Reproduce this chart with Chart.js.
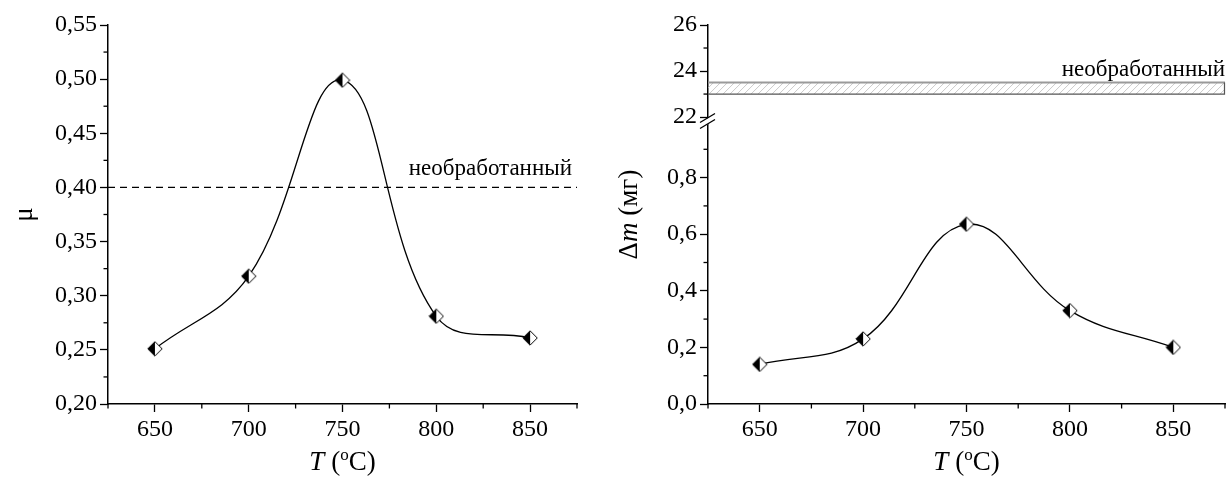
<!DOCTYPE html>
<html>
<head>
<meta charset="utf-8">
<script src="https://cdn.jsdelivr.net/npm/chart.js@4.4.0/dist/chart.umd.min.js"></script>
<style>
html, body { margin: 0; padding: 0; background: #fff; }
#wrap { position: relative; width: 1229px; height: 477px; }
canvas { position: absolute; top: 0; }
#left { left: 0; }
#right { left: 600px; }
</style>
</head>
<body>
<div id="wrap">
    <canvas id="left" width="600" height="477"></canvas>
    <canvas id="right" width="629" height="477"></canvas>
</div>
<script>
// Data
const temps = [650, 700, 750, 800, 850];
const friction = [0.251, 0.318, 0.499, 0.281, 0.261];
const massLoss = [0.14, 0.23, 0.635, 0.33, 0.20];
const untreatedFriction = 0.40;
const untreatedMassLoss = [23.0, 23.5];
const untreatedLabel = 'необработанный';

// Ticks
const xTicks = [650, 700, 750, 800, 850];
const xMinor = [625, 675, 725, 775, 825, 875];
const muTicks = [0.20, 0.25, 0.30, 0.35, 0.40, 0.45, 0.50, 0.55];
const muMinor = [0.225, 0.275, 0.325, 0.375, 0.425, 0.475, 0.525];
const lowTicks = [0, 0.2, 0.4, 0.6, 0.8];
const lowMinor = [0.1, 0.3, 0.5, 0.7, 0.9];
const highTicks = [22, 24, 26];
const highMinor = [23, 25];

const FONT = "'Liberation Serif', 'DejaVu Serif', serif";
Chart.defaults.font.family = FONT;
Chart.defaults.font.size = 24;
Chart.defaults.color = '#000';
const fmt = (v, d) => v.toFixed(d).replace('.', ',');

// Half black / half white diamond marker
const makeMarker = () => {
    const c = document.createElement('canvas');
    c.width = 16; c.height = 16;
    const g = c.getContext('2d');
    const diamond = () => {
        g.beginPath();
        g.moveTo(8, 0.8); g.lineTo(15.2, 8); g.lineTo(8, 15.2); g.lineTo(0.8, 8);
        g.closePath();
    };
    diamond();
    g.fillStyle = '#fff';
    g.fill();
    g.beginPath();
    g.moveTo(8, 0.8); g.lineTo(8, 15.2); g.lineTo(0.8, 8);
    g.closePath();
    g.fillStyle = '#000';
    g.fill();
    diamond();
    g.strokeStyle = '#000';
    g.lineWidth = 1;
    g.stroke();
    return c;
};
const marker = makeMarker();

// Text made of parts with different fonts (optionally rotated)
const drawRich = (ctx, parts, x, y, rotate) => {
    ctx.save();
    ctx.translate(x, y);
    if (rotate) ctx.rotate(-Math.PI / 2);
    let total = 0;
    parts.forEach(p => { ctx.font = p.font; p.w = ctx.measureText(p.t).width; total += p.w; });
    let cx = -total / 2;
    ctx.fillStyle = '#000';
    ctx.textAlign = 'left';
    ctx.textBaseline = 'middle';
    parts.forEach(p => { ctx.font = p.font; ctx.fillText(p.t, cx, p.dy || 0); cx += p.w; });
    ctx.restore();
};

const xTitle = [
    { t: 'T', font: `italic 27px ${FONT}` },
    { t: ' (', font: `27px ${FONT}` },
    { t: 'o', font: `17px ${FONT}`, dy: -7 },
    { t: 'C)', font: `27px ${FONT}` }
];

// Minor ticks, titles and annotations
const decor = (minor, extra) => ({
    id: 'decor',
    afterDraw(chart) {
        const ctx = chart.ctx;
        ctx.save();
        ctx.strokeStyle = '#000';
        ctx.lineWidth = 1.3;
        minor.forEach(([id, vals]) => {
            const s = chart.scales[id];
            vals.forEach(v => {
                const p = s.getPixelForValue(v);
                ctx.beginPath();
                if (s.isHorizontal()) { ctx.moveTo(p, s.top); ctx.lineTo(p, s.top + 4.5); }
                else { ctx.moveTo(s.right - 4.5, p); ctx.lineTo(s.right, p); }
                ctx.stroke();
            });
        });
        ctx.restore();
        const a = chart.chartArea;
        drawRich(ctx, xTitle, (a.left + a.right) / 2, 463, false);
        extra(chart, ctx);
    }
});

const tickFont = { family: FONT, size: 24 };

const xScale = () => ({
    type: 'linear', min: 625, max: 875,
    afterBuildTicks: s => { s.ticks = xTicks.map(v => ({ value: v })); },
    afterFit: s => { s.height = 73; },
    ticks: { font: tickFont, color: '#000', padding: 3, maxRotation: 0, autoSkip: false },
    grid: { drawOnChartArea: false, drawTicks: true, tickLength: 8, tickColor: '#000', tickWidth: 1.3 },
    border: { display: true, color: '#000', width: 1.5 }
});

const yScale = (min, max, ticks, digits) => ({
    type: 'linear', min: min, max: max,
    afterBuildTicks: s => { s.ticks = ticks.map(v => ({ value: v })); },
    afterFit: s => { s.width = 108; },
    ticks: { callback: v => fmt(v, digits), font: tickFont, color: '#000', padding: 3, autoSkip: false },
    grid: { drawOnChartArea: false, drawTicks: true, tickLength: 8, tickColor: '#000', tickWidth: 1.3 },
    border: { display: true, color: '#000', width: 1.5 }
});

const curve = (values, yAxisID) => ({
    data: temps.map((t, i) => ({ x: t, y: values[i] })),
    yAxisID: yAxisID,
    borderColor: '#000',
    borderWidth: 1.3,
    tension: 0.4,
    fill: false,
    pointStyle: marker,
    pointRadius: 8
});

// Left chart: friction coefficient
new Chart(document.getElementById('left'), {
    type: 'line',
    data: {
        datasets: [
            curve(friction, 'y'),
            {
                data: [{ x: 625, y: untreatedFriction }, { x: 875, y: untreatedFriction }],
                borderColor: '#000', borderWidth: 1.2, borderDash: [7, 5],
                pointRadius: 0, tension: 0, fill: false
            }
        ]
    },
    options: {
        responsive: false, animation: false,
        layout: { autoPadding: false, padding: { top: 25, right: 23, left: 0, bottom: 0 } },
        plugins: { legend: { display: false }, tooltip: { enabled: false } },
        scales: { x: xScale(), y: yScale(0.2, 0.55, muTicks, 2) }
    },
    plugins: [decor([['x', xMinor], ['y', muMinor]], (chart, ctx) => {
        const a = chart.chartArea;
        drawRich(ctx, [{ t: 'μ', font: `27px ${FONT}` }], 25, (a.top + a.bottom) / 2, true);
        ctx.save();
        ctx.font = `23px ${FONT}`;
        ctx.fillStyle = '#000';
        ctx.textAlign = 'right';
        ctx.textBaseline = 'alphabetic';
        ctx.fillText(untreatedLabel, a.right - 5, chart.scales.y.getPixelForValue(untreatedFriction) - 12);
        ctx.restore();
    })]
});

// Right chart: mass loss with broken axis
const yHigh = Object.assign(yScale(21.83, 26, highTicks, 0), { stack: 'dm', stackWeight: 96, weight: 1 });
const yLow = Object.assign(yScale(0, 1.0, lowTicks, 1), { stack: 'dm', stackWeight: 283, weight: 0 });

new Chart(document.getElementById('right'), {
    type: 'line',
    data: { datasets: [curve(massLoss, 'yLow')] },
    options: {
        responsive: false, animation: false,
        layout: { autoPadding: false, padding: { top: 25, right: 4, left: 0, bottom: 0 } },
        plugins: { legend: { display: false }, tooltip: { enabled: false } },
        scales: { x: xScale(), yLow: yLow, yHigh: yHigh }
    },
    plugins: [decor([['x', xMinor], ['yLow', lowMinor], ['yHigh', highMinor]], (chart, ctx) => {
        const a = chart.chartArea;
        const s = chart.scales.yHigh;
        const yTop = s.getPixelForValue(untreatedMassLoss[1]);
        const yBot = s.getPixelForValue(untreatedMassLoss[0]);

        // hatched band
        ctx.save();
        ctx.beginPath();
        ctx.rect(a.left, yTop, a.right - a.left, yBot - yTop);
        ctx.clip();
        ctx.strokeStyle = '#bdbdbd';
        ctx.lineWidth = 0.8;
        for (let x = a.left - 20; x < a.right + 20; x += 7) {
            ctx.beginPath();
            ctx.moveTo(x, yBot);
            ctx.lineTo(x + (yBot - yTop), yTop);
            ctx.stroke();
        }
        ctx.restore();
        ctx.save();
        ctx.strokeStyle = '#9a9a9a';
        ctx.lineWidth = 2;
        ctx.beginPath(); ctx.moveTo(a.left, yTop); ctx.lineTo(a.right, yTop); ctx.stroke();
        ctx.strokeStyle = '#555';
        ctx.lineWidth = 1.2;
        ctx.beginPath(); ctx.moveTo(a.left, yBot); ctx.lineTo(a.right - 0.5, yBot); ctx.lineTo(a.right - 0.5, yTop); ctx.stroke();

        // label
        ctx.font = `23px ${FONT}`;
        ctx.fillStyle = '#000';
        ctx.textAlign = 'right';
        ctx.textBaseline = 'alphabetic';
        ctx.fillText(untreatedLabel, a.right, yTop - 7);

        // axis break
        const bx = s.right, by = s.bottom;
        ctx.fillStyle = '#fff';
        ctx.beginPath();
        ctx.moveTo(bx - 3, by - 1); ctx.lineTo(bx + 3, by - 5);
        ctx.lineTo(bx + 3, by + 1); ctx.lineTo(bx - 3, by + 5);
        ctx.closePath();
        ctx.fill();
        ctx.strokeStyle = '#000';
        ctx.lineWidth = 1.3;
        [-3, 3].forEach(d => {
            ctx.beginPath();
            ctx.moveTo(bx - 8, by + d + 4.5);
            ctx.lineTo(bx + 7, by + d - 4.5);
            ctx.stroke();
        });
        ctx.restore();

        drawRich(ctx, [
            { t: 'Δ', font: `27px ${FONT}` },
            { t: 'm', font: `italic 27px ${FONT}` },
            { t: ' (мг)', font: `27px ${FONT}` }
        ], 30, (a.top + a.bottom) / 2, true);
    })]
});
</script>
</body>
</html>
